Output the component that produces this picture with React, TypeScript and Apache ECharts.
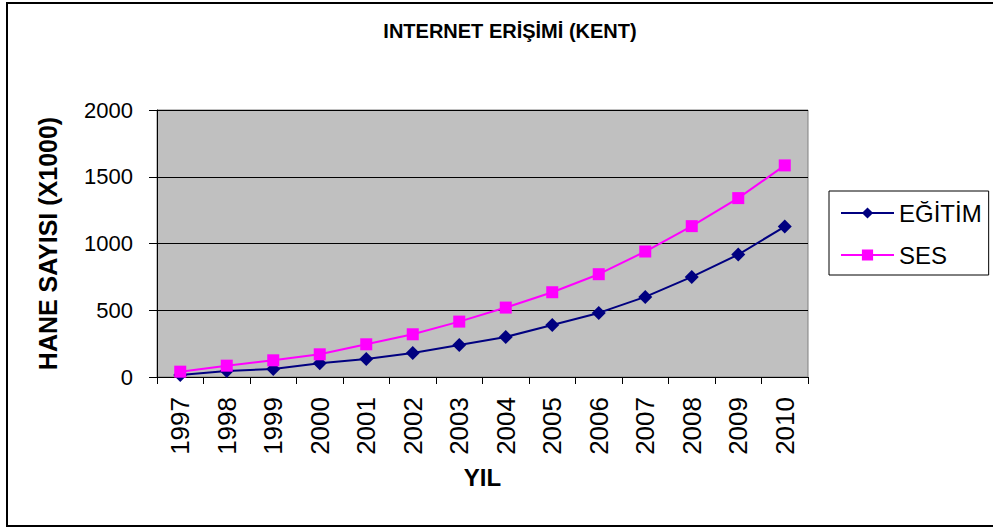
import React, { useEffect, useRef } from "react";
import * as echarts from "echarts";

const years = ["1997", "1998", "1999", "2000", "2001", "2002", "2003", "2004", "2005", "2006", "2007", "2008", "2009", "2010"];
const egitim = [15, 45, 60, 103, 135, 180, 240, 300, 390, 480, 600, 750, 917, 1127];
const ses = [40, 85, 125, 170, 245, 320, 415, 520, 635, 770, 940, 1130, 1340, 1585];
const yTicks = { min: 0, max: 2000, interval: 500 };

const FONT = "Liberation Sans, Arial, Helvetica, sans-serif";

export default function App() {
  const ref = useRef<HTMLDivElement>(null);
  useEffect(() => {
    if (!ref.current) return;
    const chart = echarts.init(ref.current, undefined, { renderer: "svg" });
    chart.setOption({
      animation: false,
      backgroundColor: "#ffffff",
      textStyle: { fontFamily: FONT, color: "#000" },
      title: {
        text: "INTERNET ERİŞİMİ (KENT)",
        left: 505,
        textAlign: "center",
        top: 16,
        textStyle: { fontFamily: FONT, fontSize: 20, fontWeight: "bold", color: "#000" },
      },
      graphic: [
        {
          type: "rect",
          shape: { x: 7, y: 3, width: 990, height: 523 },
          style: { fill: "none", stroke: "#000", lineWidth: 2 },
          silent: true,
          z: -1,
        },
      ],
      legend: {
        orient: "vertical",
        left: 829,
        top: 191,
        padding: [10, 7, 8, 11],
        itemGap: 18,
        itemWidth: 53,
        itemHeight: 14,
        borderColor: "#000",
        borderWidth: 1,
        backgroundColor: "#fff",
        textStyle: { fontFamily: FONT, fontSize: 24, color: "#000", lineHeight: 24 },
        data: ["EĞİTİM", "SES"],
      },
      grid: {
        left: 157,
        top: 110,
        width: 651,
        height: 267,
        show: true,
        backgroundColor: "#C0C0C0",
        borderColor: "#808080",
        borderWidth: 1,
        containLabel: false,
      },
      xAxis: {
        type: "category",
        data: years,
        boundaryGap: true,
        name: "YIL",
        nameLocation: "middle",
        nameGap: 88,
        nameTextStyle: { fontFamily: FONT, fontSize: 24, fontWeight: "bold", color: "#000" },
        axisLine: { show: true, lineStyle: { color: "#000", width: 1 } },
        axisTick: { show: true, length: 7, lineStyle: { color: "#000" } },
        axisLabel: { rotate: 90, margin: 20, fontFamily: FONT, fontSize: 26, color: "#000" },
        splitLine: { show: false },
      },
      yAxis: {
        type: "value",
        min: yTicks.min,
        max: yTicks.max,
        interval: yTicks.interval,
        name: "HANE SAYISI (X1000)",
        nameLocation: "middle",
        nameGap: 97,
        nameTextStyle: { fontFamily: FONT, fontSize: 25, fontWeight: "bold", color: "#000" },
        axisLine: { show: true, lineStyle: { color: "#000", width: 1 } },
        axisTick: { show: true, length: 8, lineStyle: { color: "#000" } },
        axisLabel: {
          margin: 24,
          fontFamily: FONT,
          fontSize: 22,
          color: "#000",
          formatter: (v: number) => String(v),
        },
        splitLine: { show: true, lineStyle: { color: "#000", width: 1 } },
      },
      series: [
        {
          name: "EĞİTİM",
          type: "line",
          data: egitim,
          symbol: "diamond",
          symbolSize: 14,
          lineStyle: { color: "#000080", width: 2 },
          itemStyle: { color: "#000080" },
        },
        {
          name: "SES",
          type: "line",
          data: ses,
          symbol: "rect",
          symbolSize: 12,
          lineStyle: { color: "#FF00FF", width: 2 },
          itemStyle: { color: "#FF00FF" },
        },
      ],
    });
    return () => chart.dispose();
  }, []);
  return (
    <div
      ref={ref}
      style={{ position: "absolute", left: 0, top: 0, width: 993, height: 529 }}
    />
  );
}
